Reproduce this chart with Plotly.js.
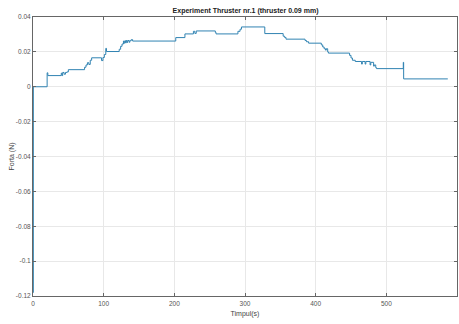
<!DOCTYPE html>
<html>
<head>
<meta charset="utf-8">
<script src="https://cdn.plot.ly/plotly-3.0.1.min.js"></script>
<style>html,body{margin:0;padding:0;background:#fff;}#chart{width:459px;height:324px;}</style>
</head>
<body>
<div id="chart"></div>
<script>
// time (s) at which force changes value (step-wise signal)
const timeS = [0, 0.5, 20, 21, 40, 41, 42, 44, 46, 48, 50, 73, 75, 77, 79, 81, 83, 97, 99, 101, 103, 104,
  122, 124, 126, 128, 129, 130, 131, 132, 133, 134, 136, 137, 139, 141, 202, 215, 227, 229, 231, 258, 259,
  290, 293, 295, 328, 354, 356, 358, 385, 387, 390, 408, 410, 412, 414, 415, 417, 418, 448, 450, 452, 456,
  465, 466, 470, 471, 477, 478, 482, 483, 485, 486, 524, 524.5, 587];
// force (N)
const forceN = [-0.118, 0, 0.008, 0.0064, 0.0078, 0.0064, 0.0082, 0.0072, 0.0082, 0.0085, 0.0098, 0.0112, 0.0125, 0.0138, 0.0128, 0.0152, 0.0166, 0.0150, 0.0168, 0.0185, 0.0220, 0.0202,
  0.0215, 0.0232, 0.0245, 0.0262, 0.0250, 0.0264, 0.0252, 0.0265, 0.0254, 0.0265, 0.0255, 0.0264, 0.0270, 0.0262, 0.0282, 0.0303, 0.0318, 0.0306, 0.0320, 0.0312, 0.0303,
  0.0318, 0.0330, 0.0343, 0.0305, 0.0290, 0.0283, 0.0273, 0.0265, 0.0258, 0.0250, 0.0240, 0.0228, 0.0218, 0.0210, 0.0218, 0.0200, 0.0193, 0.0180, 0.0165, 0.0152, 0.0145,
  0.0130, 0.0145, 0.0130, 0.0145, 0.0125, 0.0140, 0.0118, 0.0125, 0.0110, 0.0104, 0.0140, 0.0045, 0.0045];

const xTicks = [0, 100, 200, 300, 400, 500, 600];
const xTickText = ['0', '100', '200', '300', '400', '500', '600'];
const yTicks = [0.04, 0.02, 0, -0.02, -0.04, -0.06, -0.08, -0.1, -0.12];
const yTickText = ['0.04', '0.02', '0', '-0.02', '-0.04', '-0.06', '-0.08', '-0.1', '-0.12'];

const tickFont = {family: 'Liberation Sans, Arial, sans-serif', size: 6.5, color: '#555'};

const trace = {
  x: timeS, y: forceN, type: 'scatter', mode: 'lines',
  line: {color: '#3083b2', width: 1, shape: 'hv'}, hoverinfo: 'skip'
};

const axisCommon = {
  showline: true, mirror: 'ticks', linecolor: '#666', linewidth: 1,
  ticks: 'inside', ticklen: 3, tickcolor: '#666',
  showgrid: true, gridcolor: '#e8e8e8', gridwidth: 1,
  zeroline: false, tickfont: tickFont, tickmode: 'array'
};

const layout = {
  width: 459, height: 324,
  margin: {l: 33, r: 2, t: 17, b: 28},
  paper_bgcolor: '#fff', plot_bgcolor: '#fff',
  showlegend: false,
  title: {text: '<b>Experiment Thruster nr.1 (thruster 0.09 mm)</b>',
    font: {family: 'Liberation Sans, Arial, sans-serif', size: 7, color: '#222'},
    x: 0.535, xanchor: 'center', y: 0.968, yanchor: 'middle'},
  xaxis: Object.assign({}, axisCommon, {
    range: [0, 600], tickvals: xTicks, ticktext: xTickText, ticklabelstandoff: 1,
    title: {text: 'Timpul(s)', font: {family: 'Liberation Sans, Arial, sans-serif', size: 7, color: '#444'}, standoff: 5}
  }),
  yaxis: Object.assign({}, axisCommon, {
    range: [-0.12, 0.04], tickvals: yTicks, ticktext: yTickText,
    title: {text: 'Forta (N)', font: {family: 'Liberation Sans, Arial, sans-serif', size: 7, color: '#444'}, standoff: 0}
  })
};

Plotly.newPlot('chart', [trace], layout, {displayModeBar: false, staticPlot: true});
</script>
</body>
</html>
